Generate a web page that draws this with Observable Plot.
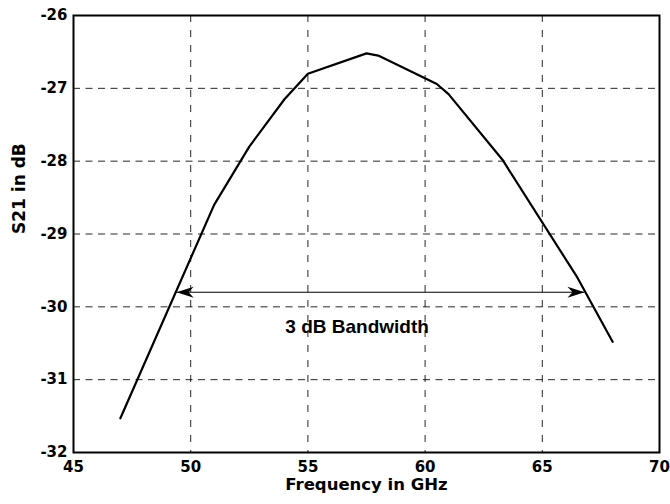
<!DOCTYPE html>
<html>
<head>
<meta charset="utf-8">
<script src="https://cdn.jsdelivr.net/npm/d3@7"></script>
<script src="https://cdn.jsdelivr.net/npm/@observablehq/plot@0.6"></script>
<style>
  html, body { margin: 0; padding: 0; background: #fff; }
</style>
</head>
<body>
<script>
// Measured transmission S21 across the band
const freq = [47, 51, 52.5, 54, 55, 57.5, 58, 60.5, 61, 63.3, 66.5, 68];
const s21 = [-31.53, -28.6, -27.8, -27.15, -26.8, -26.52, -26.55, -26.94, -27.08, -27.98, -29.6, -30.48];

// Axis ticks
const xTicks = [45, 50, 55, 60, 65, 70];
const yTicks = [-32, -31, -30, -29, -28, -27, -26];

// 3 dB bandwidth annotation
const bandLevel = -29.8;
const bandStart = 49.4;
const bandEnd = 66.8;
const bandLabel = "3 dB Bandwidth";
const bandLabelX = 57.1;
const bandLabelY = -30.28;

const curve = freq.map((f, i) => ({f, s: s21[i]}));
const heads = [
  {x: bandStart, y: bandLevel, angle: 180},
  {x: bandEnd, y: bandLevel, angle: 0}
];

// Barbed arrowhead with its tip at the origin, pointing right
const arrowHead = {
  draw(context) {
    context.moveTo(0, 0);
    context.lineTo(-17, -5.5);
    context.lineTo(-12, 0);
    context.lineTo(-17, 5.5);
    context.closePath();
  }
};

const axisFont = "DejaVu Sans, Arial, sans-serif";

const chart = Plot.plot({
  width: 670,
  height: 504,
  marginLeft: 73,
  marginRight: 11,
  marginTop: 15,
  marginBottom: 52,
  style: {fontFamily: axisFont, fontWeight: "bold", fontSize: "15px", color: "#000", background: "#fff"},
  x: {domain: [45, 70]},
  y: {domain: [-32, -26]},
  marks: [
    Plot.gridX(xTicks, {stroke: "#000", strokeOpacity: 0.85, strokeDasharray: "7,8"}),
    Plot.gridY(yTicks, {stroke: "#000", strokeOpacity: 0.85, strokeDasharray: "7,5.5"}),
    Plot.axisX(xTicks, {tickSize: 0, tickPadding: 9, tickFormat: d => String(d), label: null, fontSize: 15}),
    Plot.axisY(yTicks, {tickSize: 0, tickPadding: 6, tickFormat: d => String(d), label: null, fontSize: 15}),
    Plot.line(curve, {x: "f", y: "s", stroke: "#000", strokeWidth: 2.2}),
    Plot.link([{x1: bandStart, x2: bandEnd, y: bandLevel}], {x1: "x1", x2: "x2", y1: "y", y2: "y", stroke: "#000", strokeWidth: 1.2}),
    Plot.dot(heads, {x: "x", y: "y", rotate: "angle", symbol: arrowHead, fill: "#000", stroke: "none", r: 5}),
    Plot.text([bandLabel], {x: bandLabelX, y: bandLabelY, text: d => d, fontFamily: "Arial, Liberation Sans, sans-serif", fontWeight: "bold", fontSize: 19, fill: "#000"}),
    Plot.text(["Frequency in GHz"], {frameAnchor: "bottom", dy: 37, text: d => d, fontSize: 16.5, fill: "#000"}),
    Plot.text(["S21 in dB"], {frameAnchor: "left", dx: -54, rotate: -90, text: d => d, fontSize: 17, fill: "#000"}),
    Plot.frame({stroke: "#000", strokeWidth: 2})
  ]
});

document.body.appendChild(chart);
</script>
</body>
</html>
